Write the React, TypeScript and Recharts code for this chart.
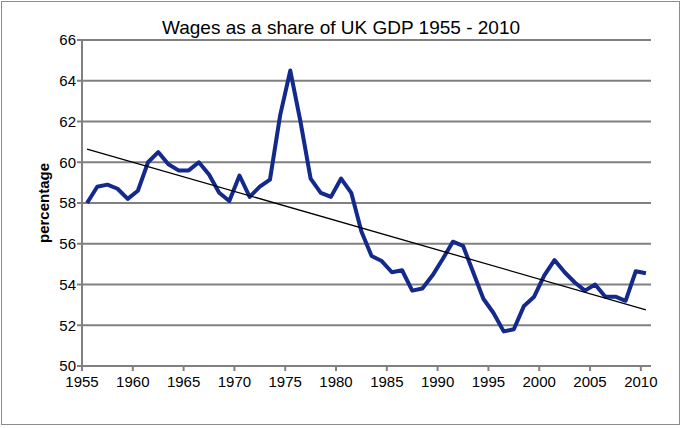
import React from "react";
import {
  LineChart,
  Line,
  XAxis,
  YAxis,
  CartesianGrid
} from "recharts";

const years = [
  1955, 1956, 1957, 1958, 1959, 1960, 1961, 1962, 1963, 1964,
  1965, 1966, 1967, 1968, 1969, 1970, 1971, 1972, 1973, 1974,
  1975, 1976, 1977, 1978, 1979, 1980, 1981, 1982, 1983, 1984,
  1985, 1986, 1987, 1988, 1989, 1990, 1991, 1992, 1993, 1994,
  1995, 1996, 1997, 1998, 1999, 2000, 2001, 2002, 2003, 2004,
  2005, 2006, 2007, 2008, 2009, 2010
];

const wageShare = [
  58.0, 58.8, 58.9, 58.7, 58.2, 58.6, 60.0, 60.5, 59.9, 59.6,
  59.6, 60.0, 59.4, 58.5, 58.1, 59.35, 58.3, 58.8, 59.15, 62.3,
  64.5, 62.0, 59.2, 58.5, 58.3, 59.2, 58.5, 56.6, 55.4, 55.15,
  54.6, 54.7, 53.7, 53.8, 54.45, 55.25, 56.1, 55.9, 54.6, 53.3,
  52.6, 51.7, 51.8, 52.95, 53.4, 54.45, 55.2, 54.6, 54.1, 53.7,
  54.0, 53.4, 53.4, 53.2, 54.65, 54.55
];

// linear trendline, read at first and last year
const trendStart = 60.65;
const trendEnd = 52.76;

const xTicks = [1955, 1960, 1965, 1970, 1975, 1980, 1985, 1990, 1995, 2000, 2005, 2010];
const yTicks = [50, 52, 54, 56, 58, 60, 62, 64, 66];

// points sit at mid-year
const data = years.map((y, i) => ({
  x: y + 0.5,
  share: wageShare[i],
  trend: i === 0 ? trendStart : i === years.length - 1 ? trendEnd : null
}));

const font = "Arial, 'Liberation Sans', Helvetica, sans-serif";

function YLabel(props: any) {
  const vb = props.viewBox || {};
  const cx = 43;
  const cy = (vb.y || 0) + (vb.height || 0) / 2;
  return (
    <text
      x={cx}
      y={cy}
      transform={`rotate(-90 ${cx} ${cy})`}
      textAnchor="middle"
      dominantBaseline="central"
      fontFamily={font}
      fontSize={15}
      fontWeight="bold"
      fill="#000"
    >
      percentage
    </text>
  );
}

export default function App() {
  return (
    <div style={{ position: "relative", width: 682, height: 428, background: "#fff" }}>
      <style>{"body{margin:0}"}</style>
      <div
        style={{
          position: "absolute",
          left: 1,
          top: 1,
          width: 677,
          height: 422,
          border: "1px solid #8c8c8c"
        }}
      />
      <div
        style={{
          position: "absolute",
          left: 0,
          width: 682,
          top: 17,
          textAlign: "center",
          fontFamily: font,
          fontSize: 19,
          color: "#000",
          lineHeight: "22px"
        }}
      >
        Wages as a share of UK GDP 1955 - 2010
      </div>
      <div style={{ position: "absolute", left: 0, top: 0 }}>
        <LineChart
          width={682}
          height={428}
          data={data}
          margin={{ top: 40, right: 31, bottom: 0, left: 0 }}
        >
          <CartesianGrid vertical={false} stroke="#808080" strokeWidth={2} />
          <XAxis
            dataKey="x"
            type="number"
            domain={[1955, 2011]}
            ticks={xTicks}
            allowDataOverflow
            height={62}
            tickSize={5}
            tickMargin={5}
            stroke="#808080"
            strokeWidth={2}
            tick={{ fill: "#000", fontSize: 15, fontFamily: font }}
            interval={0}
          />
          <YAxis
            type="number"
            domain={[50, 66]}
            ticks={yTicks}
            width={82}
            tickSize={5}
            tickMargin={1}
            stroke="#808080"
            strokeWidth={2}
            tick={{ fill: "#000", fontSize: 15, fontFamily: font }}
            interval={0}
            label={<YLabel />}
          />
          <Line
            type="linear"
            dataKey="share"
            stroke="#14298c"
            strokeWidth={4}
            dot={false}
            strokeLinejoin="round"
            isAnimationActive={false}
          />
          <Line
            type="linear"
            dataKey="trend"
            stroke="#000"
            strokeWidth={1.3}
            dot={false}
            connectNulls
            isAnimationActive={false}
          />
        </LineChart>
      </div>
    </div>
  );
}
